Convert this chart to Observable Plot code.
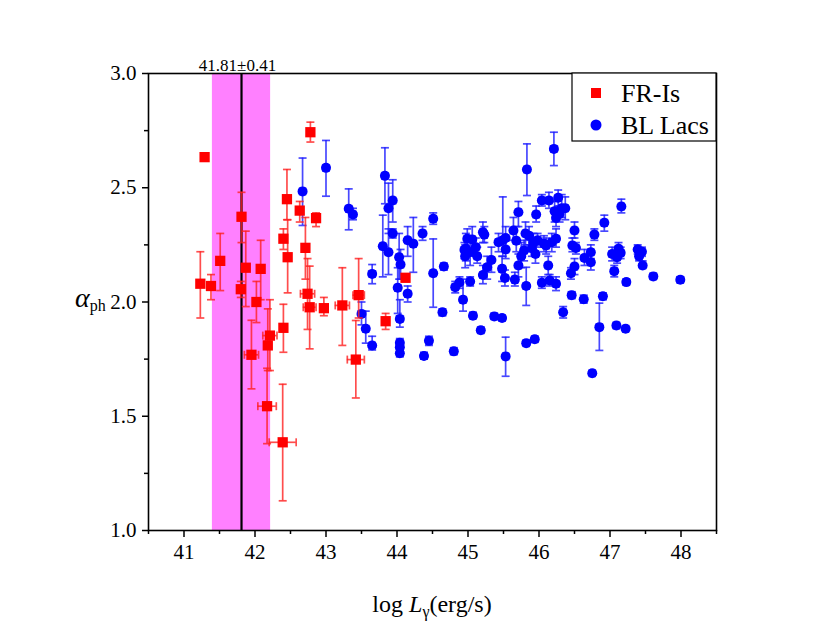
<!DOCTYPE html>
<html><head><meta charset="utf-8">
<script src="https://cdn.jsdelivr.net/npm/d3@7"></script>
<script src="https://cdn.jsdelivr.net/npm/@observablehq/plot@0.6"></script>
<style>body{margin:0;background:#fff} svg text{font-family:'Liberation Serif','Times New Roman',serif !important;}</style>
</head><body><div id="chart"></div>
<script>
// FR-Is (red squares)
const frX   = [41.29,41.23,41.38,41.51,41.81,41.80,41.87,42.08,42.02,41.95,42.21,42.18,42.17,42.39,42.40,42.45,42.40,42.46,42.71,42.63,42.78,42.86,42.74,42.77,42.97,43.23,43.46,43.42,43.84,44.12];
const frY   = [2.634,2.08,2.07,2.18,2.373,2.056,2.15,2.145,2.00,1.769,1.853,1.81,1.544,1.386,1.887,2.45,2.277,2.196,2.237,2.40,2.743,2.367,2.036,1.977,1.973,1.985,2.03,1.748,1.916,2.106];
const frYlo = [2.62,1.93,2.01,2.05,2.26,2.02,1.98,2.01,1.91,1.62,1.70,1.70,1.38,1.13,1.78,2.36,2.23,2.04,2.10,2.35,2.70,2.33,1.88,1.795,1.94,1.81,1.93,1.58,1.88,2.09];
const frYhi = [2.645,2.22,2.12,2.30,2.48,2.09,2.31,2.27,2.09,1.92,2.01,1.97,1.71,1.64,1.99,2.58,2.32,2.36,2.37,2.44,2.787,2.39,2.19,2.157,2.02,2.15,2.19,1.919,1.95,2.12];
const frXe  = [0.02,0.02,0.02,0.02,0.02,0.03,0.05,0.04,0.02,0.10,0.10,0.05,0.13,0.19,0.03,0.02,0.02,0.05,0.03,0.02,0.02,0.02,0.10,0.09,0.02,0.10,0.08,0.12,0.03,0.03];

// BL Lacs (blue circles)
const blX   = [42.67,43.00,43.32,43.38,43.50,43.56,43.65,43.65,43.83,43.88,43.94,43.80,43.88,43.94,44.03,44.05,44.01,44.15,44.04,44.04,44.04,44.04,44.15,44.23,44.36,44.38,44.45,44.51,44.51,44.64,
               44.66,44.80,44.82,44.88,44.93,45.03,45.07,45.18,45.37,45.48,45.53,44.99,45.06,44.97,45.11,45.13,45.03,44.95,45.21,45.33,45.27,45.21,45.49,45.53,45.64,45.68,45.71,45.81,45.75,45.79,
               45.83,45.48,45.52,45.66,45.71,45.82,45.82,45.94,45.92,45.98,46.07,46.18,46.24,45.95,45.90,45.96,46.04,46.14,46.27,46.32,46.37,46.22,46.24,46.21,46.13,46.04,46.15,46.24,46.34,46.46,
               46.63,46.50,46.47,46.52,46.50,46.45,46.64,46.73,46.73,46.78,46.92,47.16,46.75,46.85,47.09,47.22,46.90,47.03,47.12,47.10,47.06,47.23,47.39,47.41,47.46,47.61,47.99,45.53,45.43,46.10,
               46.29,45.86,45.23,44.96,47.15,47.45];
const blY   = [2.484,2.587,2.408,2.383,1.948,1.883,1.81,2.123,2.552,2.41,2.444,2.244,2.218,2.30,2.196,2.164,2.062,2.036,1.926,1.822,1.802,1.776,2.27,2.255,2.30,1.764,1.83,2.364,2.126,1.955,
               2.155,1.784,2.065,2.085,2.01,2.09,1.94,1.876,1.937,1.93,1.762,2.277,2.274,2.233,2.24,2.20,2.218,2.228,2.305,2.184,2.152,2.118,2.27,2.28,2.313,2.268,2.393,2.30,2.20,2.225,
               2.58,2.145,2.105,2.098,2.16,2.07,1.82,1.837,2.26,2.27,2.255,2.262,2.277,2.21,2.235,2.383,2.444,2.444,2.456,2.41,2.41,2.397,2.368,2.67,2.16,2.084,2.094,2.08,1.955,2.03,
               2.012,2.313,2.247,2.236,2.155,2.126,2.193,2.218,2.174,2.295,2.347,2.418,1.688,1.89,1.897,1.883,2.025,2.21,2.233,2.196,2.135,2.087,2.23,2.20,2.16,2.112,2.097,2.23,2.262,2.247,
               2.385,2.29,2.295,2.20,2.215,2.22];
const blYlo = [2.335,2.463,2.316,2.36,1.90,1.82,1.79,2.08,2.43,2.30,2.35,2.11,2.12,2.28,2.10,2.10,1.95,2.00,1.89,1.80,1.79,1.76,2.20,2.13,2.27,1.75,1.81,2.34,1.977,1.94,
               2.14,1.77,2.04,2.06,1.96,2.07,1.93,1.865,1.925,1.92,1.675,2.21,2.22,2.18,2.20,2.17,2.16,2.19,2.26,2.13,2.10,2.08,2.20,2.24,2.27,2.22,2.33,2.25,2.15,2.18,
               2.466,2.09,2.07,2.07,2.11,1.985,1.81,1.825,2.22,2.24,2.22,2.22,2.24,2.17,2.20,2.35,2.42,2.41,2.42,2.37,2.36,2.35,2.33,2.597,2.12,2.06,2.07,2.05,1.93,2.015,
               1.995,2.28,2.22,2.21,2.12,2.10,2.16,2.19,2.14,2.27,2.31,2.39,1.68,1.788,1.885,1.875,2.01,2.18,2.20,2.17,2.11,2.075,2.21,2.18,2.15,2.10,2.085,2.19,2.22,2.21,
               2.35,2.25,2.26,2.15,2.19,2.20];
const blYhi = [2.63,2.707,2.495,2.41,2.00,1.96,1.85,2.164,2.675,2.52,2.535,2.38,2.32,2.32,2.30,2.23,2.15,2.07,2.01,1.84,1.815,1.79,2.33,2.37,2.33,1.78,1.85,2.39,2.276,1.97,
               2.17,1.80,2.09,2.11,2.10,2.11,1.955,1.89,1.95,1.94,1.846,2.32,2.33,2.30,2.28,2.24,2.27,2.26,2.35,2.24,2.20,2.16,2.46,2.33,2.37,2.33,2.44,2.35,2.26,2.27,
               2.692,2.20,2.14,2.13,2.21,2.152,1.83,1.85,2.30,2.30,2.29,2.30,2.32,2.25,2.27,2.42,2.47,2.48,2.49,2.47,2.46,2.44,2.41,2.743,2.20,2.11,2.12,2.11,1.98,2.045,
               2.03,2.35,2.28,2.26,2.19,2.15,2.23,2.25,2.21,2.32,2.38,2.45,1.70,1.995,1.91,1.89,2.04,2.24,2.26,2.22,2.16,2.10,2.25,2.22,2.18,2.125,2.11,2.27,2.30,2.28,
               2.42,2.33,2.33,2.25,2.24,2.24];
const blXe  = blX.map(() => 0.04);

// vertical band: 41.81 ± 0.41
const bandCenter = 41.81, bandHalf = 0.41;
const bandLabel = "41.81±0.41";
const xTicks = [41,42,43,44,45,46,47,48];
const xMinor = [40.5,41.5,42.5,43.5,44.5,45.5,46.5,47.5,48.5];
const yTicks = [1.0,1.5,2.0,2.5,3.0];
const yMinor = [1.25,1.75,2.25,2.75];

const fr = frX.map((x,i)=>({x, y:frY[i], ylo:frYlo[i], yhi:frYhi[i], xlo:x-frXe[i], xhi:x+frXe[i]}));
const bl = blX.map((x,i)=>({x, y:blY[i], ylo:blYlo[i], yhi:blYhi[i], xlo:x-blXe[i], xhi:x+blXe[i]}));

const hcap = {draw(ctx,size){const w=Math.sqrt(size/Math.PI); ctx.moveTo(-w,0); ctx.lineTo(w,0);}};
const vcap = {draw(ctx,size){const w=Math.sqrt(size/Math.PI); ctx.moveTo(0,-w); ctx.lineTo(0,w);}};

function errMarks(data, color){
  const o = {stroke:color, strokeWidth:1.7, strokeOpacity:0.8};
  return [
    Plot.ruleX(data,{x:"x", y1:"ylo", y2:"yhi", ...o}),
    Plot.ruleY(data,{y:"y", x1:"xlo", x2:"xhi", ...o}),
    Plot.dot(data,{x:"x", y:"ylo", symbol:hcap, r:4, ...o}),
    Plot.dot(data,{x:"x", y:"yhi", symbol:hcap, r:4, ...o}),
    Plot.dot(data,{x:"xlo", y:"y", symbol:vcap, r:4, ...o}),
    Plot.dot(data,{x:"xhi", y:"y", symbol:vcap, r:4, ...o})
  ];
}

const font = "Liberation Serif";
const chart = Plot.plot({
  width:830, height:636,
  marginLeft:148, marginRight:114, marginTop:73, marginBottom:106,
  style:{fontFamily:font, fontSize:"21px", color:"black", background:"white"},
  x:{domain:[40.5,48.5]},
  y:{domain:[1,3]},
  marks:[
    Plot.rect([{c:bandCenter,h:bandHalf}],{x1:d=>d.c-d.h, x2:d=>d.c+d.h, fill:"#ff80ff"}),
    Plot.ruleX([bandCenter],{stroke:"black", strokeWidth:2.2}),
    Plot.text([bandCenter],{x:d=>d, frameAnchor:"top", lineAnchor:"bottom", dy:-3, dx:-4, text:()=>bandLabel, fontSize:17, fontFamily:font, fill:"black"}),
    ...errMarks(bl,"#1a1aff"),
    Plot.dot(bl,{x:"x", y:"y", r:5, fill:"#0000ff", symbol:"circle"}),
    ...errMarks(fr,"#ff2020"),
    Plot.dot(fr,{x:"x", y:"y", r:5.8, fill:"#ff0000", symbol:"square"}),
    Plot.axisX(xTicks,{tickSize:7, tickPadding:7, strokeWidth:1.5, fontFamily:font, fontSize:21, tickFormat:d=>String(d), label:null}),
    Plot.axisX(xMinor,{tickSize:4, strokeWidth:1.5, tickFormat:()=>"", label:null}),
    Plot.axisY(yTicks,{tickSize:6, tickPadding:6, strokeWidth:1.5, fontFamily:font, fontSize:21, tickFormat:d3.format(".1f"), label:null}),
    Plot.axisY(yMinor,{tickSize:4, strokeWidth:1.5, tickFormat:()=>"", label:null}),
    Plot.frame({stroke:"black", strokeWidth:1.6})
  ]
});
document.getElementById("chart").append(chart);

const svg = d3.select(chart);
// legend
const lg = svg.append("g").attr("font-family",font).attr("text-anchor","start");
lg.append("rect").attr("x",572).attr("y",73).attr("width",144).attr("height",68).attr("fill","white").attr("stroke","black").attr("stroke-width",1.2);
lg.append("rect").attr("x",591).attr("y",88).attr("width",10).attr("height",10).attr("fill","#ff0000");
lg.append("circle").attr("cx",596).attr("cy",125).attr("r",5.5).attr("fill","#0000ff");
lg.append("text").attr("x",621).attr("y",102).attr("font-size",26).text("FR-Is");
lg.append("text").attr("x",621).attr("y",134).attr("font-size",26).text("BL Lacs");
// x title
const xt = svg.append("text").attr("x",432).attr("y",612).attr("text-anchor","middle").attr("font-family",font).attr("font-size",24);
xt.append("tspan").text("log ");
xt.append("tspan").attr("font-style","italic").text("L");
xt.append("tspan").attr("font-size",16).attr("dy",5).text("γ");
xt.append("tspan").attr("dy",-5).text("(erg/s)");
// y title
const yt = svg.append("text").attr("x",75).attr("y",307).attr("text-anchor","start").attr("font-family",font).attr("font-size",28);
yt.append("tspan").attr("font-style","italic").text("α");
yt.append("tspan").attr("font-size",16).attr("dy",4).text("ph");
</script></body></html>
